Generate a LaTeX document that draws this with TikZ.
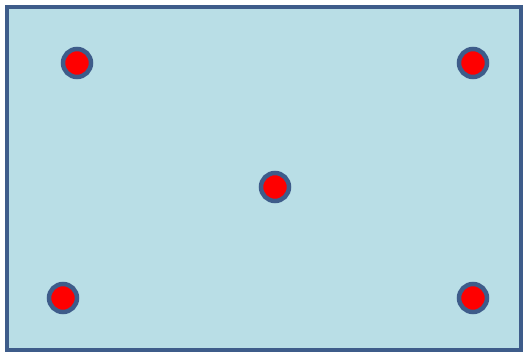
\documentclass[tikz,border=0pt]{standalone}
\usepackage{tikz}
\usetikzlibrary{positioning}
\definecolor{paneblue}{RGB}{185,222,230}
\definecolor{edgeblue}{RGB}{62,92,138}
\definecolor{dotred}{RGB}{255,0,0}
\tikzset{
  spot/.style={circle, fill=dotred, draw=edgeblue, line width=4.5pt, minimum size=28pt, inner sep=0pt}
}
\begin{document}
\begin{tikzpicture}[x=1pt,y=-1pt]
            \useasboundingbox (0,0) rectangle (523,353);
            % Panel
            \fill[paneblue] (7,7) rectangle (521,350);
            \draw[edgeblue, line width=3.5pt] (7,7) rectangle (521,350);

            % Spots
            \node[spot] (tl) at (77,63) {};
            \node[spot] (tr) at (473,63) {};
            \node[spot] (mid) at (275,187) {};
            \node[spot] (bl) at (63,298) {};
            \node[spot] (br) at (473,298) {};
        \end{tikzpicture}
\end{document}
